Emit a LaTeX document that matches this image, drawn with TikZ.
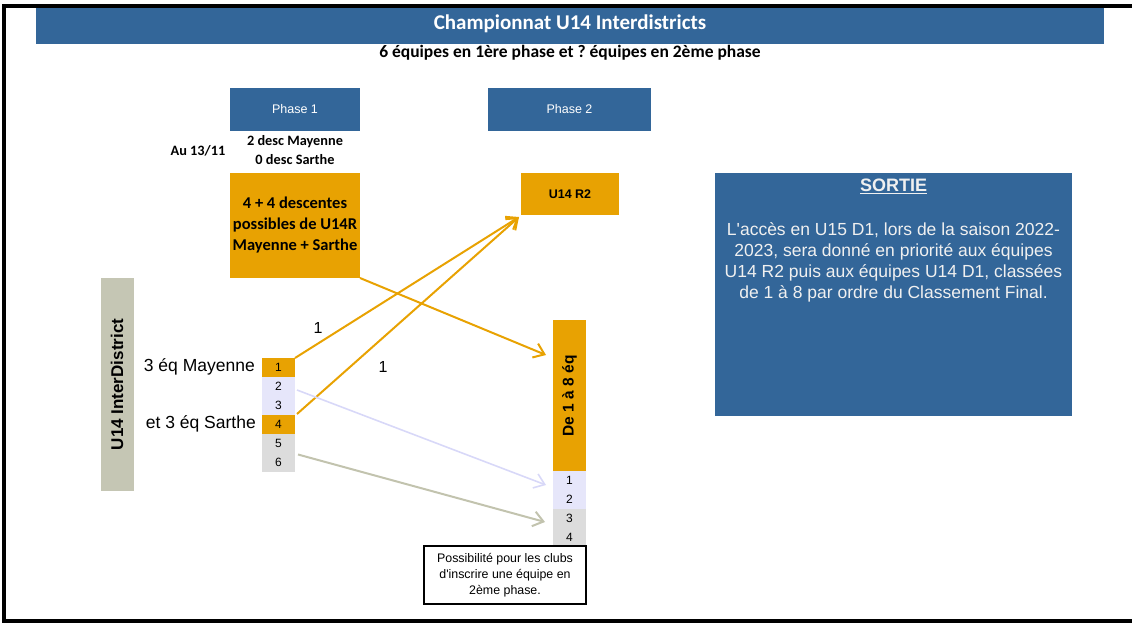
\documentclass[tikz,border=0pt]{standalone}
\usepackage{fontspec}
\setmainfont{Liberation Sans}
\newfontfamily\carl{Carlito}
\usetikzlibrary{arrows.meta}
\definecolor{bluebg}{HTML}{336699}
\definecolor{gold}{HTML}{E8A202}
\definecolor{lav}{HTML}{E6E6FA}
\definecolor{lgray}{HTML}{DCDCDC}
\definecolor{sage}{HTML}{C5C6B4}
\definecolor{lavline}{HTML}{D8D8F8}
\definecolor{sageline}{HTML}{C2C3AE}
\definecolor{paletext}{HTML}{F0F0F0}
\frenchspacing
\begin{document}
\begin{tikzpicture}[x=1pt,y=-1pt,
  box/.style={inner sep=0pt,outer sep=0pt,align=center},
  bluebox/.style={box,fill=bluebg,text=white},
  goldbox/.style={box,fill=gold},
  cell/.style={box,minimum width=33pt,minimum height=19pt,font=\fontsize{12}{12}\selectfont},
  conn/.style={line width=2pt,-{Straight Barb[length=10pt,width=15pt]}},
  lbl/.style={inner sep=0pt,font=\fontsize{16}{16}\selectfont}
]
\useasboundingbox (0,0) rectangle (1132,623);
% frame
\draw[line width=3.5pt] (1140,6) -- (4,6) -- (4,621) -- (1140,621);
% title
\node[bluebox,minimum width=1068pt,minimum height=36pt] (title) at (570,26) {};
\node[text=white,inner sep=0pt,font=\carl\bfseries\fontsize{21}{21}\selectfont] (titletxt) at (570,24) {Championnat U14 Interdistricts};
\node[inner sep=0pt,font=\carl\bfseries\fontsize{17.5}{17.5}\selectfont] (sub) at (570,53) {6 équipes en 1ère phase et ? équipes en 2ème phase};
% phase headers
\node[bluebox,minimum width=130pt,minimum height=43pt,font=\fontsize{12.5}{12.5}\selectfont] (ph1) at (295,109.5) {Phase 1};
\node[bluebox,minimum width=163pt,minimum height=43pt,font=\fontsize{12.5}{12.5}\selectfont] (ph2) at (569.5,109.5) {Phase 2};
% notes
\node[box,font=\carl\bfseries\fontsize{14.3}{19}\selectfont] (desc) at (295,150.5) {2 desc Mayenne\\0 desc Sarthe};
\node[box,font=\carl\bfseries\fontsize{14.3}{14.3}\selectfont] (au) at (198,151) {Au 13/11};
% gold boxes
\node[goldbox,minimum width=130pt,minimum height=105pt,font=\carl\bfseries\fontsize{16.5}{21}\selectfont] (desc4) at (295,225.5) {4 + 4 descentes\\possibles de U14R\\Mayenne + Sarthe};
\node[goldbox,minimum width=98pt,minimum height=42pt,font=\bfseries\fontsize{12.5}{12.5}\selectfont] (r2) at (570,194) {U14 R2};
% sortie
\node[bluebox,minimum width=357pt,minimum height=243pt] (sortie) at (893.5,294.5) {};
\node[inner sep=0pt,text=paletext,font=\bfseries\fontsize{18}{18}\selectfont] (sortiet) at (893.5,186) {\underline{SORTIE}};
\node[box,text=paletext,font=\fontsize{17.5}{20.8}\selectfont] (sortieb) at (893.5,262.5) {L\textquotesingle accès en U15 D1, lors de la saison 2022-\\2023, sera donné en priorité aux équipes\\U14 R2 puis aux équipes U14 D1, classées\\de 1 à 8 par ordre du Classement Final.};
% left vertical bar
\node[box,fill=sage,minimum width=33pt,minimum height=213pt] (bar) at (117,384.5) {};
\node[rotate=90,inner sep=0pt,font=\bfseries\fontsize{17}{17}\selectfont] (bart) at (117,384.5) {U14 InterDistrict};
% left stack
\node[cell,fill=gold] (c1) at (278.5,367.5) {1};
\node[cell,fill=lav] (c2) at (278.5,386.5) {2};
\node[cell,fill=lav] (c3) at (278.5,405.5) {3};
\node[cell,fill=gold] (c4) at (278.5,424.5) {4};
\node[cell,fill=lgray] (c5) at (278.5,443.5) {5};
\node[cell,fill=lgray] (c6) at (278.5,462.5) {6};
\node[lbl,anchor=east,font=\fontsize{17.5}{17.5}\selectfont] (may) at (255,367) {3 éq Mayenne};
\node[lbl,anchor=east,font=\fontsize{17.5}{17.5}\selectfont] (sar) at (256,424) {et 3 éq Sarthe};
% right column
\node[goldbox,minimum width=33pt,minimum height=151pt] (col) at (569.5,395.5) {};
\node[rotate=90,inner sep=0pt,font=\bfseries\fontsize{15.5}{15.5}\selectfont] (colt) at (569.5,396) {De 1 à 8 éq};
\node[cell,fill=lav] (d1) at (569.5,480.5) {1};
\node[cell,fill=lav] (d2) at (569.5,499.5) {2};
\node[cell,fill=lgray] (d3) at (569.5,518.5) {3};
\node[cell,fill=lgray] (d4) at (569.5,537.5) {4};
% note box
\node[box,draw,line width=1.5pt,fill=white,minimum width=162pt,minimum height=58pt,font=\fontsize{12.4}{16}\selectfont] (note) at (505,575) {Possibilité pour les clubs\\d\textquotesingle inscrire une équipe en\\2ème phase.};
% arrow targets
\coordinate (t3) at (546,355);
\coordinate (t4) at (546,485);
\coordinate (t5) at (545,522);
% connectors
\draw[conn,draw=gold] (c1.north east) -- ([shift={(-2,2)}]r2.south west);
\draw[conn,draw=gold] ([shift={(2,-1)}]c4.north east) -- ([shift={(-2,2)}]r2.south west);
\draw[conn,draw=gold] (desc4.south east) -- (t3);
\draw[conn,draw=lavline,line width=1.6pt] ([shift={(2,3.5)}]c2.east) -- (t4);
\draw[conn,draw=sageline] ([shift={(3,1.5)}]c6.north east) -- (t5);
% labels
\node[lbl] (l1) at (318,328) {1};
\node[lbl] (l2) at (383,367) {1};
\end{tikzpicture}
\end{document}
